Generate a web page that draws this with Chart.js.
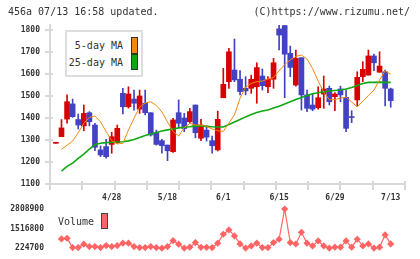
<!DOCTYPE html>
<html><head><meta charset="utf-8">
<script src="https://cdn.jsdelivr.net/npm/chart.js@4/dist/chart.umd.min.js"></script>
<style>
html,body{margin:0;padding:0;background:#fff;}
body{width:420px;height:259px;overflow:hidden;position:relative;font-family:"DejaVu Sans Mono",monospace;}
canvas{position:absolute;left:0;}
#main{top:0;width:420px;height:210px;}
#vol{top:195px;width:420px;height:64px;}
.t{position:absolute;font-size:10px;color:#333;white-space:nowrap;line-height:12px;}
.box{position:absolute;box-sizing:border-box;border:1px solid #333;}
</style></head><body>
<canvas id="main" width="420" height="210"></canvas>
<canvas id="vol" width="420" height="64"></canvas>
<div class="t" style="left:8px;top:6px">456a 07/13 16:58 updated.</div>
<div class="t" style="right:10px;top:6px">(C)https://www.rizumu.net/</div>
<div style="position:absolute;left:65px;top:30px;width:78px;height:47px;box-sizing:border-box;border:2px solid #ddd;background:#fff;"></div>
<div class="t" style="right:297px;top:40px">5-day MA</div>
<div class="t" style="right:297px;top:57px">25-day MA</div>
<div class="box" style="left:131px;top:37px;width:7px;height:17px;background:#f2880e;"></div>
<div class="box" style="left:131px;top:54px;width:7px;height:16px;background:#10a810;"></div>
<div class="t" style="left:58px;top:216px">Volume</div>
<div class="box" style="left:101px;top:213px;width:7px;height:16px;background:#ff6464;border-color:#444;"></div>
<script>
// ---- data ----
const xLabels = ['4/28','5/18','6/1','6/15','6/29','7/13'];
const xLabelIndex = [10,20,30,40,50,60];
const priceTicks = [1100,1200,1300,1400,1500,1600,1700,1800];
const volumeTicks = [224700,1516800,2808900];

const openP  = [1285,1315,1395,1464,1393,1364,1424,1368,1255,1270,1280,1288,1512,1451,1486,1440,1467,1424,1333,1297,
                1277,1247,1424,1400,1383,1459,1308,1345,1297,1255,1492,1565,1618,1576,1535,1535,1542,1591,1542,1576,
                1805,1820,1694,1550,1674,1505,1459,1447,1509,1535,1497,1532,1494,1405,1482,1588,1595,1682,1608,1610,1532];
const highP  = [1285,1393,1505,1486,1418,1459,1429,1376,1273,1303,1335,1368,1535,1542,1527,1527,1527,1424,1345,1303,
                1277,1399,1482,1421,1444,1459,1394,1365,1318,1431,1626,1717,1759,1615,1588,1595,1651,1623,1588,1671,
                1823,1823,1727,1709,1674,1527,1509,1542,1591,1545,1515,1545,1527,1433,1610,1656,1709,1690,1701,1618,1536];
const lowP   = [1285,1315,1376,1403,1350,1342,1364,1251,1224,1217,1240,1285,1418,1445,1436,1421,1414,1318,1277,1240,
                1206,1244,1360,1338,1376,1310,1297,1295,1240,1250,1492,1535,1565,1505,1505,1512,1467,1527,1515,1535,
                1709,1492,1588,1545,1436,1429,1433,1440,1444,1459,1433,1474,1338,1379,1455,1565,1595,1615,1608,1455,1449];
const closeP = [1285,1355,1474,1406,1368,1421,1383,1267,1232,1224,1315,1353,1451,1509,1467,1500,1424,1323,1280,1274,
                1251,1391,1376,1352,1429,1333,1368,1313,1274,1394,1553,1701,1573,1520,1523,1576,1629,1547,1576,1651,
                1777,1690,1630,1671,1505,1444,1440,1492,1532,1474,1509,1505,1353,1402,1585,1621,1682,1651,1636,1535,1479];
const ma5 = [null,1258,1276,1295,1333,1376,1403,1409,1383,1338,1297,1282,1285,1345,1399,1449,1468,1474,1457,1427,
             1382,1338,1318,1357,1375,1368,1368,1362,1350,1342,1339,1377,1414,1490,1541,1557,1565,1568,1577,1584,
             1614,1643,1664,1680,1686,1668,1625,1568,1518,1483,1484,1490,1495,1473,1450,1477,1502,1527,1573,1614,1599];
const ma25 = [null,1159,1180,1195,1216,1236,1259,1280,1285,1288,1290,1291,1292,1296,1302,1311,1320,1327,1334,1341,
              1346,1350,1355,1358,1360,1364,1364,1362,1360,1359,1359,1370,1382,1393,1405,1416,1425,1432,1436,1445,
              1453,1464,1474,1484,1493,1502,1510,1515,1519,1523,1525,1527,1532,1539,1548,1557,1562,1562,1563,1562,1562];
const volume = [null,836000,880000,264000,264000,488000,330000,330000,264000,396000,330000,396000,553000,553000,330000,264000,264000,330000,264000,224700,
                330000,724000,488000,230000,290000,593000,280000,280000,264000,553000,1145000,1428000,1033000,507000,230000,376000,553000,264000,264000,593000,
                816000,2808900,593000,500000,1277000,553000,376000,704000,376000,230000,290000,290000,704000,290000,816000,376000,507000,230000,290000,1099000,507000];

// ---- styles ----
const UP = '#d80000', DOWN = '#4242c2', AXIS = '#d8d8d8';
const idx = closeP.map((_, i) => i);
const candleColor = idx.map(i => closeP[i] >= openP[i] ? UP : DOWN);
const X_MIN = -1.057, X_MAX = 62.56;
const labelFont = {family:'DejaVu Sans Mono', size:8, weight:'bold'};

const tickMarks = {
  id:'tickMarks',
  afterDraw(chart){
    const {ctx, chartArea:a, scales:{x,y}} = chart;
    ctx.save(); ctx.strokeStyle = AXIS; ctx.lineWidth = 2;
    ctx.beginPath();
    y.ticks.forEach(t => { const py = Math.round(y.getPixelForValue(t.value)); ctx.moveTo(a.left-5, py); ctx.lineTo(a.left+3, py); });
    for (let k = 0; k <= 11; k++) { const px = Math.round(a.left + k*(a.right-a.left)/11); ctx.moveTo(px, a.bottom-3); ctx.lineTo(px, a.bottom+6); }
    ctx.stroke(); ctx.restore();
  }
};

new Chart(document.getElementById('main'), {
  type:'bar',
  data:{datasets:[
    {type:'line', data: idx.map(i => ({x:i, y:ma25[i]})), borderColor:'#10a810', borderWidth:1.6, pointRadius:0, order:1},
    {type:'line', data: idx.map(i => ({x:i, y:ma5[i]})), borderColor:'#f2880e', borderWidth:1, pointRadius:0, order:0},
    {data: idx.map(i => ({x:i, y:[lowP[i], highP[i]]})), backgroundColor:candleColor, barThickness:1, grouped:false, order:3},
    {data: idx.map(i => ({x:i, y:[openP[i], closeP[i]]})), backgroundColor:candleColor, barThickness:5, minBarLength:1, grouped:false, order:2}
  ]},
  options:{
    responsive:false, animation:false, devicePixelRatio:1,
    layout:{padding:{left:0,right:15,top:25,bottom:0}},
    plugins:{legend:{display:false}, tooltip:{enabled:false}},
    scales:{
      x:{type:'linear', min:X_MIN, max:X_MAX, offset:false,
         afterBuildTicks:s => { s.ticks = xLabelIndex.map(v => ({value:v})); },
         ticks:{callback:v => xLabels[xLabelIndex.indexOf(v)], autoSkip:false, maxRotation:0, padding:9, color:'#333', font:labelFont},
         grid:{display:false, drawTicks:false, offset:false}, border:{display:true, color:AXIS, width:2},
         afterFit:s => { s.height = 26; }},
      y:{min:1100, max:1822.7,
         afterBuildTicks:s => { s.ticks = priceTicks.map(v => ({value:v})); },
         ticks:{callback:v => String(v), padding:10, color:'#333', font:labelFont},
         grid:{display:false, drawTicks:false}, border:{display:true, color:AXIS, width:2},
         afterFit:s => { s.width = 50; }}
    }
  },
  plugins:[tickMarks]
});

new Chart(document.getElementById('vol'), {
  type:'line',
  data:{datasets:[
    {data: idx.map(i => ({x:i, y:volume[i]})), borderColor:'#ff6464', backgroundColor:'#ff6464', borderWidth:1.2,
     pointStyle:'rectRot', pointRadius:3.6, pointBorderWidth:0, clip:false}
  ]},
  options:{
    responsive:false, animation:false, devicePixelRatio:1,
    layout:{padding:{left:0,right:15,top:14,bottom:10.7}},
    plugins:{legend:{display:false}, tooltip:{enabled:false}},
    scales:{
      x:{type:'linear', min:X_MIN, max:X_MAX, display:false},
      y:{min:224700, max:2808900,
         afterBuildTicks:s => { s.ticks = volumeTicks.map(v => ({value:v})); },
         ticks:{callback:v => String(v), padding:6, color:'#333', font:labelFont},
         grid:{display:false, drawTicks:false}, border:{display:false},
         afterFit:s => { s.width = 50; }}
    }
  }
});
</script>
</body></html>
